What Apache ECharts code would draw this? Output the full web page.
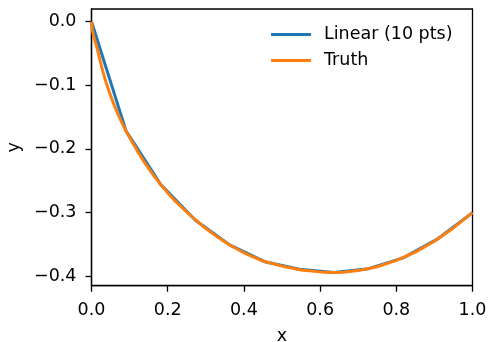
<!DOCTYPE html>
<html>
<head>
<meta charset="utf-8">
<script src="https://cdn.jsdelivr.net/npm/echarts@6/dist/echarts.min.js"></script>
<style>html,body{margin:0;padding:0;background:#fff}#c{width:489px;height:342px}</style>
</head>
<body>
<div id="c"></div>
<script>
var linearX = [0, 0.0909, 0.1818, 0.2727, 0.3636, 0.4545, 0.5455, 0.6364, 0.7273, 0.8182, 0.9091, 1.0];
var linearY = [0, -0.172, -0.256, -0.312, -0.351, -0.377, -0.389, -0.394, -0.388, -0.371, -0.341, -0.300];
var truthX = [0, 0.002, 0.005, 0.01, 0.015, 0.02, 0.03, 0.04, 0.05, 0.06, 0.07, 0.08, 0.09, 0.10, 0.12, 0.14, 0.16, 0.18, 0.20, 0.22, 0.25, 0.28, 0.30, 0.33, 0.36, 0.40, 0.45, 0.50, 0.55, 0.60, 0.63, 0.66, 0.70, 0.75, 0.80, 0.85, 0.90, 0.95, 1.0];
var truthY = [0, -0.012, -0.022, -0.032, -0.043, -0.055, -0.079, -0.099, -0.116, -0.132, -0.146, -0.159, -0.171, -0.182, -0.203, -0.222, -0.239, -0.255, -0.269, -0.282, -0.299, -0.315, -0.325, -0.338, -0.350, -0.363, -0.376, -0.384, -0.390, -0.393, -0.394, -0.3935, -0.391, -0.385, -0.375, -0.362, -0.345, -0.324, -0.300];
var yTicks = [-0.4, -0.3, -0.2, -0.1, 0.0];

function pairs(xs, ys) { return xs.map(function (x, i) { return [x, ys[i]]; }); }
function fmt(v) { return (v < -1e-9 ? '\u2212' : '') + Math.abs(v).toFixed(1); }

var chart = echarts.init(document.getElementById('c'));
var font = 'DejaVu Sans';
var fs = 17.5;
chart.setOption({
  animation: false,
  textStyle: { fontFamily: font },
  grid: { left: 91.5, right: 16.5, top: 9, bottom: 56.3, show: true, borderColor: '#000', borderWidth: 1.3, containLabel: false, outerBoundsMode: 'none' },
  legend: {
    orient: 'vertical', left: 271, top: 24.5, padding: 0, itemWidth: 40, itemHeight: 3, itemGap: 6,
    icon: 'rect',
    textStyle: { fontFamily: font, fontSize: fs, lineHeight: 20, color: '#000', padding: [0, 0, 0, 8] },
    data: ['Linear (10 pts)', 'Truth']
  },
  xAxis: {
    type: 'value', min: 0, max: 1, interval: 0.2,
    name: 'x', nameLocation: 'middle', nameGap: 42,
    nameTextStyle: { fontFamily: font, fontSize: fs, color: '#000' },
    axisLine: { show: true, onZero: false, lineStyle: { color: '#000', width: 1.3 } },
    axisTick: { show: true, length: 6, lineStyle: { color: '#000', width: 1.3 } },
    axisLabel: { fontFamily: font, fontSize: fs, color: '#000', margin: 16, formatter: function (v) { return fmt(v); }, showMinLabel: true, showMaxLabel: true },
    splitLine: { show: false }
  },
  yAxis: {
    type: 'value', min: -0.4147, max: 0.0197,
    name: 'y', nameLocation: 'middle', nameGap: 67, nameRotate: 90,
    nameTextStyle: { fontFamily: font, fontSize: fs, color: '#000' },
    axisLine: { show: true, onZero: false, lineStyle: { color: '#000', width: 1.3 } },
    axisTick: { show: true, length: 6, customValues: yTicks, lineStyle: { color: '#000', width: 1.3 } },
    axisLabel: { fontFamily: font, fontSize: fs, color: '#000', margin: 15, customValues: yTicks, formatter: function (v) { return fmt(v); } },
    splitLine: { show: false }
  },
  series: [
    { name: 'Linear (10 pts)', type: 'line', data: pairs(linearX, linearY), showSymbol: false, symbol: 'none',
      lineStyle: { color: '#1f77b4', width: 3 }, itemStyle: { color: '#1f77b4' } },
    { name: 'Truth', type: 'line', data: pairs(truthX, truthY), showSymbol: false, symbol: 'none',
      lineStyle: { color: '#ff7f0e', width: 3 }, itemStyle: { color: '#ff7f0e' } }
  ]
});
</script>
</body>
</html>
